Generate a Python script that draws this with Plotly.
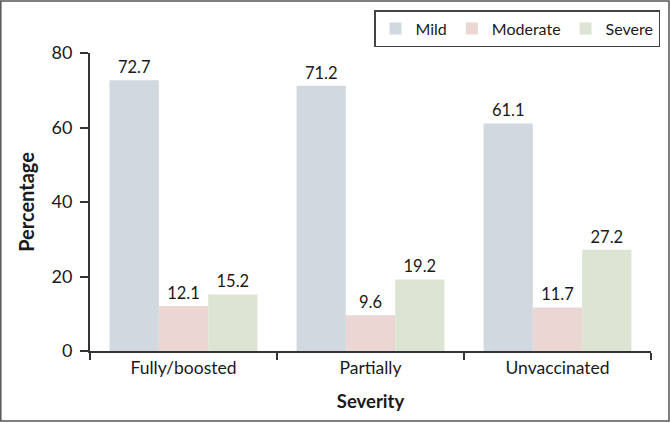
import plotly.graph_objects as go

categories = ["Fully/boosted", "Partially", "Unvaccinated"]
mild = [72.7, 71.2, 61.1]
moderate = [12.1, 9.6, 11.7]
severe = [15.2, 19.2, 27.2]
series_names = ["Mild", "Moderate", "Severe"]
colors = ["#D2D8E0", "#EBD6D4", "#DCE4D4"]

W, H = 670, 423
ml, mr, mt, mb = 90, 19, 53, 71.5
pw, ph = W - ml - mr, H - mt - mb

FONT = "Lato"
fig = go.Figure()
for name, vals, c in zip(series_names, [mild, moderate, severe], colors):
    fig.add_trace(go.Bar(
        x=categories, y=vals, name=name, marker=dict(color=c, line=dict(width=0)),
        text=[f"{v:.1f}" for v in vals], textposition="outside",
        textfont=dict(family=FONT, size=16.5, color="#1a1a1a"), cliponaxis=False,
    ))

fig.update_layout(
    width=W, height=H, barmode="group", bargap=0.209, bargroupgap=0,
    margin=dict(l=ml, r=mr, t=mt, b=mb, autoexpand=False),
    plot_bgcolor="white", paper_bgcolor="white",
    font=dict(family=FONT, size=17, color="#1a1a1a"),
    legend=dict(
        orientation="h", x=(660 - ml) / pw, y=(H - mb - 10) / ph,
        xanchor="right", yanchor="top",
        bordercolor="#444444", borderwidth=1.5, bgcolor="white",
        font=dict(family=FONT, size=16, color="#1a1a1a"),
        traceorder="normal",
    ),
    xaxis=dict(
        showline=True, linecolor="#333333", linewidth=2,
        ticks="outside", tickson="boundaries", ticklen=7, tickcolor="#333333", tickwidth=1.5,
        tickfont=dict(family=FONT, size=17.5),
        title=dict(text="<b>Severity</b>", font=dict(family=FONT, size=18.5), standoff=18),
    ),
    yaxis=dict(
        range=[0, 80], tickvals=[0, 20, 40, 60, 80], showgrid=False, zeroline=False,
        showline=True, linecolor="#333333", linewidth=2,
        ticks="outside", ticklen=8, tickcolor="#333333", tickwidth=1.5,
        tickfont=dict(family=FONT, size=18), ticklabelstandoff=4,
        title=dict(text="<b>Percentage</b>", font=dict(family=FONT, size=20), standoff=12),
    ),
)

fig.add_shape(type="rect", xref="paper", yref="paper",
              x0=(0.8 - ml) / pw, x1=(669 - ml) / pw,
              y0=(H - mb - 421.5) / ph, y1=(H - mb - 0.8) / ph,
              line=dict(color="#555555", width=1.5), fillcolor="rgba(0,0,0,0)", layer="above")

fig.write_html("out.html")
